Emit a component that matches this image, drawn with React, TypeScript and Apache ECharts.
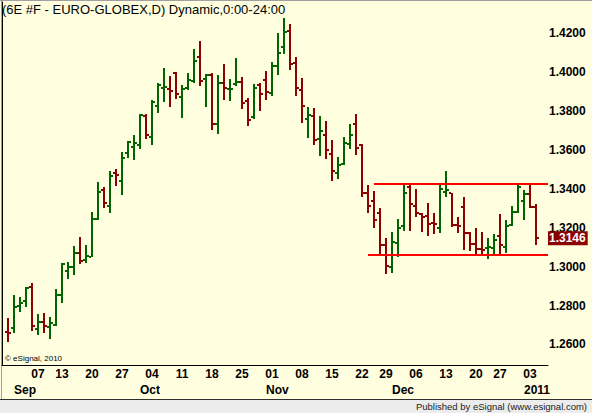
import React, { useEffect, useRef } from "react";
import * as echarts from "echarts";

const dates = [
  "2010-08-30","2010-08-31","2010-09-01","2010-09-02","2010-09-03","2010-09-07","2010-09-08","2010-09-09","2010-09-10",
  "2010-09-13","2010-09-14","2010-09-15","2010-09-16","2010-09-17","2010-09-20","2010-09-21","2010-09-22","2010-09-23","2010-09-24",
  "2010-09-27","2010-09-28","2010-09-29","2010-09-30","2010-10-01","2010-10-04","2010-10-05","2010-10-06","2010-10-07","2010-10-08",
  "2010-10-11","2010-10-12","2010-10-13","2010-10-14","2010-10-15","2010-10-18","2010-10-19","2010-10-20","2010-10-21","2010-10-22",
  "2010-10-25","2010-10-26","2010-10-27","2010-10-28","2010-10-29","2010-11-01","2010-11-02","2010-11-03","2010-11-04","2010-11-05",
  "2010-11-08","2010-11-09","2010-11-10","2010-11-11","2010-11-12","2010-11-15","2010-11-16","2010-11-17","2010-11-18","2010-11-19",
  "2010-11-22","2010-11-23","2010-11-24","2010-11-26","2010-11-29","2010-11-30","2010-12-01","2010-12-02","2010-12-03",
  "2010-12-06","2010-12-07","2010-12-08","2010-12-09","2010-12-10","2010-12-13","2010-12-14","2010-12-15","2010-12-16","2010-12-17",
  "2010-12-20","2010-12-21","2010-12-22","2010-12-23","2010-12-27","2010-12-28","2010-12-29","2010-12-30","2010-12-31",
  "2011-01-03","2011-01-04",
];

const opens = [
  1.2662,1.2685,1.2797,1.2823,1.2893,1.2677,1.2716,1.2691,1.2699,
  1.2854,1.2976,1.2997,1.3068,1.3032,1.3051,1.3244,1.3394,1.3312,1.3482,
  1.3442,1.3583,1.3617,1.3625,1.3775,1.3668,1.3826,1.3921,1.3914,1.3994,
  1.3874,1.3917,1.3953,1.4077,1.3966,1.3984,1.3735,1.3943,1.3912,1.3941,
  1.3950,1.3850,1.3769,1.3936,1.3958,1.3894,1.4032,1.4130,1.4212,1.4048,
  1.3910,1.3760,1.3773,1.3658,1.3675,1.3581,1.3483,1.3526,1.3632,1.3735,
  1.3624,1.3380,1.3339,1.3274,1.3111,1.2999,1.3123,1.3209,1.3408,
  1.3312,1.3270,1.3260,1.3225,1.3200,1.3384,1.3377,1.3214,1.3308,1.3171,
  1.3116,1.3089,1.3094,1.3094,1.3157,1.3099,1.3214,1.3282,1.3336,
  1.3375,1.3308,
];
const highs = [
  1.2737,1.2853,1.2842,1.2893,1.2915,1.2756,1.2759,1.2739,1.2883,
  1.3018,1.3023,1.3105,1.3154,1.3111,1.3282,1.3433,1.3411,1.3491,1.3501,
  1.3588,1.3646,1.3677,1.3785,1.3785,1.3857,1.3943,1.4020,1.3981,1.4001,
  1.3934,1.3994,1.4117,1.4159,1.3992,1.3996,1.3984,1.4040,1.3966,1.4073,
  1.3975,1.3867,1.3941,1.3946,1.4004,1.4052,1.4201,1.4278,1.4246,1.4080,
  1.3970,1.3821,1.3816,1.3775,1.3749,1.3653,1.3563,1.3666,1.3735,1.3786,
  1.3632,1.3420,1.3390,1.3300,1.3145,1.3179,1.3243,1.3431,1.3419,
  1.3397,1.3277,1.3328,1.3274,1.3428,1.3491,1.3380,1.3257,1.3359,1.3179,
  1.3197,1.3179,1.3145,1.3168,1.3270,1.3240,1.3313,1.3419,1.3394,
  1.3428,1.3322,
];
const lows = [
  1.2613,1.2657,1.2768,1.2793,1.2670,1.2649,1.2657,1.2629,1.2694,
  1.2813,1.2937,1.2956,1.3011,1.3018,1.3048,1.3239,1.3300,1.3276,1.3416,
  1.3370,1.3560,1.3548,1.3606,1.3658,1.3627,1.3789,1.3849,1.3823,1.3861,
  1.3766,1.3908,1.3946,1.3929,1.3821,1.3701,1.3684,1.3858,1.3850,1.3929,
  1.3812,1.3723,1.3757,1.3799,1.3855,1.3876,1.3984,1.4095,1.4013,1.3879,
  1.3740,1.3663,1.3627,1.3567,1.3555,1.3438,1.3452,1.3521,1.3606,1.3572,
  1.3358,1.3277,1.3197,1.3059,1.2960,1.2965,1.3051,1.3184,1.3184,
  1.3253,1.3179,1.3157,1.3168,1.3171,1.3356,1.3205,1.3171,1.3085,1.3081,
  1.3059,1.3059,1.3039,1.3059,1.3064,1.3071,1.3209,1.3277,1.3239,
  1.3300,1.3111,
];
const closes = [
  1.2658,1.2793,1.2811,1.2888,1.2696,1.2716,1.2694,1.2711,1.2854,
  1.3012,1.2997,1.3071,1.3028,1.3054,1.3243,1.3385,1.3328,1.3466,1.3472,
  1.3560,1.3641,1.3637,1.3780,1.3675,1.3845,1.3934,1.3926,1.3905,1.3888,
  1.3912,1.3960,1.4056,1.3953,1.3984,1.3735,1.3943,1.3918,1.3916,1.3950,
  1.3843,1.3752,1.3918,1.3889,1.3898,1.4032,1.4100,1.4207,1.4040,1.3920,
  1.3828,1.3778,1.3649,1.3696,1.3600,1.3490,1.3521,1.3636,1.3675,1.3610,
  1.3378,1.3312,1.3240,1.3111,1.3003,1.3128,1.3197,1.3380,1.3322,
  1.3277,1.3253,1.3217,1.3217,1.3397,1.3392,1.3214,1.3210,1.3171,1.3116,
  1.3089,1.3085,1.3102,1.3136,1.3111,1.3209,1.3282,1.3411,1.3375,
  1.3305,1.3146,
];

const weekLabelDates = [
  "2010-09-07","2010-09-13","2010-09-20","2010-09-27","2010-10-04","2010-10-11","2010-10-18","2010-10-25",
  "2010-11-01","2010-11-08","2010-11-15","2010-11-22","2010-11-29","2010-12-06","2010-12-13","2010-12-20",
  "2010-12-27","2011-01-03",
];
const monthNames = ["Jan","Feb","Mar","Apr","May","Jun","Jul","Aug","Sep","Oct","Nov","Dec"];
const priceTicks = [1.26, 1.28, 1.30, 1.32, 1.34, 1.36, 1.38, 1.40, 1.42];
const channelLevels = [1.3428, 1.3060];
const channelStartDates = ["2010-11-24", "2010-11-23"];

const GREEN = "#006400";
const RED = "#8b0000";
const FONT = "Liberation Sans";

export default function App() {
  const ref = useRef<HTMLDivElement>(null);
  useEffect(() => {
    if (!ref.current) return;
    const chart = echarts.init(ref.current, null, { renderer: "svg" });
    const xOf = (d: string) => dates.indexOf(d) + 1;
    const xMax = dates.length + 2;
    const weekValues = weekLabelDates.map(xOf);
    const monthMap: Record<number, string> = {};
    for (let i = 1; i < dates.length; i++) {
      const m = dates[i].slice(5, 7);
      if (m !== dates[i - 1].slice(5, 7)) {
        monthMap[i] = m === "01" ? dates[i].slice(0, 4) : monthNames[parseInt(m, 10) - 1];
      }
    }
    const monthValues = Object.keys(monthMap).map(Number);
    const lastClose = closes[closes.length - 1];
    const data = dates.map((d, i) => [i + 1, opens[i], highs[i], lows[i], closes[i]]);
    const yMin = 1.2494;
    const yMax = 1.4361;
    const labelStyle = { fontFamily: FONT, fontSize: 12, fontWeight: "bold" as const, color: "#000" };

    chart.setOption({
      animation: false,
      backgroundColor: "#ffffe0",
      title: {
        text: "(6E #F - EURO-GLOBEX,D) Dynamic,0:00-24:00",
        left: 2,
        top: 3,
        padding: 0,
        textStyle: { fontFamily: FONT, fontSize: 13, fontWeight: "normal", color: "#000" },
      },
      grid: { left: 2, right: 44, top: 2, bottom: 48, containLabel: false },
      xAxis: [
        {
          type: "value",
          min: 0,
          max: xMax,
          axisLine: { show: true, lineStyle: { color: "#000", width: 1 } },
          axisTick: { show: false },
          splitLine: { show: false },
          axisLabel: {
            ...labelStyle,
            margin: 3,
            customValues: weekValues,
            formatter: (v: number) => {
              const d = dates[Math.round(v) - 1];
              return d ? d.slice(8, 10) : "";
            },
          },
        },
        {
          type: "value",
          min: 0,
          max: xMax,
          position: "bottom",
          axisLine: { show: false },
          axisTick: { show: false },
          splitLine: { show: false },
          axisLabel: {
            ...labelStyle,
            margin: 19,
            align: "left",
            customValues: monthValues,
            formatter: (v: number) => monthMap[Math.round(v)] || "",
          },
        },
      ],
      yAxis: [
        {
          type: "value",
          position: "right",
          min: yMin,
          max: yMax,
          axisLine: { show: true, lineStyle: { color: "#000", width: 1 } },
          axisTick: { show: false },
          splitLine: { show: false },
          axisLabel: {
            ...labelStyle,
            margin: 1,
            customValues: priceTicks,
            formatter: (v: number) => v.toFixed(4),
          },
        },
        {
          type: "value",
          position: "right",
          min: yMin,
          max: yMax,
          z: 5,
          axisLine: { show: false },
          axisTick: { show: false },
          splitLine: { show: false },
          axisLabel: {
            ...labelStyle,
            color: "#fff",
            margin: 0,
            backgroundColor: RED,
            padding: [1, 2, 1, 1],
            lineHeight: 12,
            customValues: [lastClose],
            formatter: (v: number) => v.toFixed(4),
          },
        },
      ],
      series: [
        {
          type: "custom",
          xAxisIndex: 0,
          yAxisIndex: 0,
          data,
          encode: { x: 0, y: [1, 2, 3, 4] },
          renderItem: (params: any, api: any) => {
            const x = api.value(0);
            const o = api.value(1);
            const h = api.value(2);
            const l = api.value(3);
            const c = api.value(4);
            const ph = api.coord([x, h]);
            const pl = api.coord([x, l]);
            const po = api.coord([x, o]);
            const pc = api.coord([x, c]);
            const cx = Math.round(ph[0]);
            const color = c >= o ? GREEN : RED;
            const top = Math.round(ph[1]);
            const bot = Math.round(pl[1]);
            return {
              type: "group",
              children: [
                { type: "rect", shape: { x: cx - 1, y: top, width: 2, height: Math.max(2, bot - top) }, style: { fill: color } },
                { type: "rect", shape: { x: cx - 3, y: Math.round(po[1]) - 1, width: 2, height: 2 }, style: { fill: color } },
                { type: "rect", shape: { x: cx + 1, y: Math.round(pc[1]) - 1, width: 2, height: 2 }, style: { fill: color } },
              ],
            };
          },
          markLine: {
            silent: true,
            symbol: ["none", "none"],
            label: { show: false },
            lineStyle: { color: "#ff0000", width: 2, type: "solid" },
            data: channelLevels.map((lv, k) => [
              { coord: [xOf(channelStartDates[k]), lv] },
              { coord: [xMax, lv] },
            ]),
          },
        },
      ],
      graphic: [
        {
          type: "text",
          left: 5,
          top: 354,
          style: { text: "\u00a9 eSignal, 2010", font: `8px "${FONT}"`, fill: "#000" },
        },
        {
          type: "rect",
          left: 0,
          top: 399,
          shape: { width: 592, height: 14 },
          style: { fill: "#ececec" },
        },
        {
          type: "line",
          shape: { x1: 0, y1: 399.5, x2: 592, y2: 399.5 },
          style: { stroke: "#303030", lineWidth: 1 },
        },
        {
          type: "line",
          shape: { x1: 1.5, y1: 0, x2: 1.5, y2: 399 },
          style: { stroke: "#a0a0a0", lineWidth: 1 },
        },
        {
          type: "line",
          shape: { x1: 0, y1: 0.5, x2: 592, y2: 0.5 },
          style: { stroke: "#a0a0a0", lineWidth: 1 },
        },
        {
          type: "text",
          right: 5,
          top: 401,
          style: { text: "Published by eSignal (www.esignal.com)", font: `9.5px "${FONT}"`, fill: "#222" },
        },
      ],
    });
    return () => chart.dispose();
  }, []);
  return <div ref={ref} style={{ position: "fixed", left: 0, top: 0, width: 592, height: 413 }} />;
}
